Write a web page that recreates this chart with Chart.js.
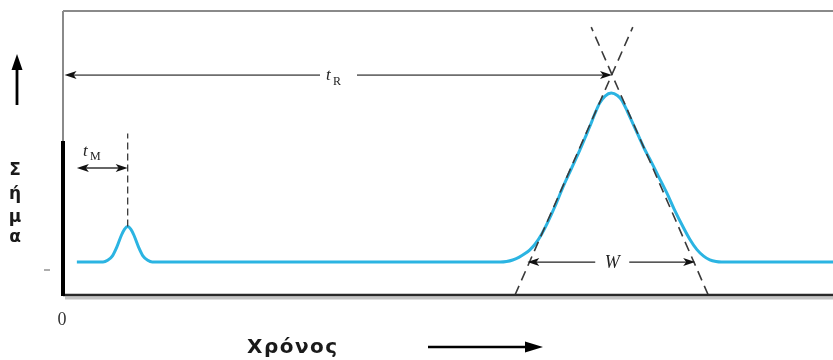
<!DOCTYPE html>
<html>
<head>
<meta charset="utf-8">
<script src="https://cdn.jsdelivr.net/npm/chart.js@4.4.1/dist/chart.umd.min.js"></script>
<style>
  html, body { margin: 0; background: #fff; }
  #wrap { width: 833px; height: 360px; }
</style>
</head>
<body>
<div id="wrap"><canvas id="chrom" width="833" height="360"></canvas></div>
<script>
// time in arbitrary units (0..100), signal in % of the main peak height
const timeRange = [0, 100];
const signalRange = [-19.5, 148.5];

// detector trace
const traceTime = [1.8, 4.6, 5.2, 5.8, 6.4, 7.0, 7.6, 8.0, 8.4, 8.8, 9.2, 9.8, 10.4, 11.0, 11.6, 13.0,
  56.8, 57.6, 58.4, 59.2, 60.0, 60.6, 61.3, 62.1, 62.9, 63.9, 64.9, 66.0, 67.1, 67.8, 68.4, 69.1,
  69.7, 70.4, 71.2, 72.0, 72.6, 73.3, 74.0, 74.8, 75.5, 76.2, 77.3, 78.4, 79.4, 80.5, 81.4, 82.3,
  83.2, 84.0, 84.8, 85.5, 100];
const traceSignal = [0, 0, 0, 1, 3.5, 9, 16, 19.5, 21, 19.5, 16, 9, 3.5, 1, 0, 0,
  0, 0.3, 1.2, 2.8, 5, 7.1, 10.5, 16, 23, 33, 44, 55, 66, 73.5, 80, 88,
  94, 98.2, 100, 98.5, 95.5, 89, 82, 74, 67, 61, 51, 41, 31, 21, 13.5, 7.5,
  3.5, 1.3, 0.3, 0, 0];

// tangents through the inflection points of the main peak
const tangentATime = [58.7, 74.0];
const tangentASignal = [-19.5, 139];
const tangentBTime = [83.8, 68.6];
const tangentBSignal = [-19.5, 139];

// dead time marker (dashed vertical)
const deadMarkTime = [8.4, 8.4];
const deadMarkSignal = [21, 76];

// dimension arrows: [start time, end time, signal level]
const arrowTR = [0.2, 71.3, 110.6];
const arrowTM = [1.8, 8.4, 55.6];
const arrowW = [60.3, 82.1, 0];

const toPoints = (xs, ys) => xs.map((x, i) => ({ x: x, y: ys[i] }));

function arrowHead(ctx, x, y, dir, len, half) {
  ctx.beginPath();
  ctx.moveTo(x, y);
  ctx.lineTo(x - dir * len, y - half);
  ctx.lineTo(x - dir * len + dir * 3, y);
  ctx.lineTo(x - dir * len, y + half);
  ctx.closePath();
  ctx.fill();
}

// horizontal dimension line with a gap for its label
function dimLine(ctx, x1, x2, y, gap, color, width) {
  ctx.save();
  ctx.strokeStyle = color;
  ctx.fillStyle = '#111';
  ctx.lineWidth = width;
  ctx.beginPath();
  if (gap) {
    ctx.moveTo(x1 + 6, y); ctx.lineTo(gap[0], y);
    ctx.moveTo(gap[1], y); ctx.lineTo(x2 - 6, y);
  } else {
    ctx.moveTo(x1 + 6, y); ctx.lineTo(x2 - 6, y);
  }
  ctx.stroke();
  arrowHead(ctx, x1, y, -1, 12, 4);
  arrowHead(ctx, x2, y, 1, 12, 4);
  ctx.restore();
}

const decor = {
  id: 'decor',
  afterDraw(chart) {
    const ctx = chart.ctx;
    const a = chart.chartArea;
    const xs = chart.scales.x, ys = chart.scales.y;
    ctx.save();

    // frame
    ctx.strokeStyle = '#8a8a8a';
    ctx.lineWidth = 2;
    ctx.beginPath();
    ctx.moveTo(a.left, a.top); ctx.lineTo(a.right, a.top);
    ctx.moveTo(a.left, a.top); ctx.lineTo(a.left, 141);
    ctx.stroke();
    ctx.strokeStyle = '#c4c4c4';
    ctx.lineWidth = 3;
    ctx.beginPath();
    ctx.moveTo(a.left + 2, a.bottom + 3); ctx.lineTo(a.right, a.bottom + 3);
    ctx.stroke();
    ctx.strokeStyle = '#2a2a2a';
    ctx.lineWidth = 2.5;
    ctx.beginPath();
    ctx.moveTo(a.left, a.bottom); ctx.lineTo(a.right, a.bottom);
    ctx.stroke();
    ctx.strokeStyle = '#000';
    ctx.lineWidth = 4;
    ctx.beginPath();
    ctx.moveTo(a.left, 141); ctx.lineTo(a.left, a.bottom + 1);
    ctx.stroke();

    // small tick left of the axis
    ctx.strokeStyle = '#777';
    ctx.lineWidth = 1.2;
    ctx.beginPath();
    ctx.moveTo(44, 270); ctx.lineTo(50, 270);
    ctx.stroke();

    // t_R
    const yR = ys.getPixelForValue(arrowTR[2]);
    dimLine(ctx, xs.getPixelForValue(arrowTR[0]), xs.getPixelForValue(arrowTR[1]), yR,
      [320, 357], '#6e6e6e', 1.8);
    ctx.fillStyle = '#222';
    ctx.textBaseline = 'alphabetic';
    ctx.font = 'italic 17px "Liberation Serif"';
    ctx.fillText('t', 326, yR + 5);
    ctx.font = '12px "Liberation Serif"';
    ctx.fillText('R', 333, yR + 10);

    // t_M
    const yM = ys.getPixelForValue(arrowTM[2]);
    dimLine(ctx, xs.getPixelForValue(arrowTM[0]), xs.getPixelForValue(arrowTM[1]), yM,
      null, '#333', 1.5);
    ctx.fillStyle = '#222';
    ctx.font = 'italic 17px "Liberation Serif"';
    ctx.fillText('t', 83, yM - 12);
    ctx.font = '12px "Liberation Serif"';
    ctx.fillText('M', 90, yM - 8);

    // W
    const yW = ys.getPixelForValue(arrowW[2]);
    const xWmid = (xs.getPixelForValue(arrowW[0]) + xs.getPixelForValue(arrowW[1])) / 2;
    dimLine(ctx, xs.getPixelForValue(arrowW[0]), xs.getPixelForValue(arrowW[1]), yW,
      [xWmid - 16, xWmid + 18], '#222', 1.3);
    ctx.fillStyle = '#222';
    ctx.font = 'italic 18px "Liberation Serif"';
    ctx.textAlign = 'center';
    ctx.textBaseline = 'middle';
    ctx.fillText('W', xWmid + 1, yW + 1);

    // origin label
    ctx.font = '18px "Liberation Serif"';
    ctx.fillStyle = '#333';
    ctx.fillText('0', 62, 320);

    // y label, letters stacked
    ctx.font = 'bold 17px "DejaVu Sans"';
    ctx.fillStyle = '#1a1a1a';
    const letters = ['Σ', 'ή', 'μ', 'α'];
    const letterY = [171, 195, 218, 238];
    letters.forEach((c, i) => ctx.fillText(c, 15, letterY[i]));

    // up arrow
    ctx.strokeStyle = '#000';
    ctx.fillStyle = '#000';
    ctx.lineWidth = 2.8;
    ctx.beginPath();
    ctx.moveTo(17, 105); ctx.lineTo(17, 66);
    ctx.stroke();
    ctx.beginPath();
    ctx.moveTo(17, 54); ctx.lineTo(11.5, 70); ctx.lineTo(22.5, 70);
    ctx.closePath();
    ctx.fill();

    // x label and arrow
    ctx.textAlign = 'left';
    ctx.font = 'bold 20px "DejaVu Sans"';
    ctx.letterSpacing = '1.5px';
    ctx.fillStyle = '#1a1a1a';
    ctx.fillText('Χρόνος', 247, 348);
    ctx.letterSpacing = '0px';
    ctx.fillStyle = '#000';
    ctx.lineWidth = 2.5;
    ctx.beginPath();
    ctx.moveTo(428, 347); ctx.lineTo(528, 347);
    ctx.stroke();
    ctx.beginPath();
    ctx.moveTo(543, 347); ctx.lineTo(525, 341.5); ctx.lineTo(525, 352.5);
    ctx.closePath();
    ctx.fill();

    ctx.restore();
  }
};

const dashStyle = {
  borderColor: '#3a3a3a',
  borderWidth: 1.6,
  borderDash: [10, 6],
  pointRadius: 0,
  fill: false,
  tension: 0
};

new Chart(document.getElementById('chrom'), {
  type: 'line',
  data: {
    datasets: [
      Object.assign({ data: toPoints(tangentATime, tangentASignal) }, dashStyle),
      Object.assign({ data: toPoints(tangentBTime, tangentBSignal) }, dashStyle),
      Object.assign({ data: toPoints(deadMarkTime, deadMarkSignal) }, dashStyle,
        { borderDash: [7, 4], borderWidth: 1.3 }),
      {
        data: toPoints(traceTime, traceSignal),
        borderColor: '#2bb4e2',
        borderWidth: 3,
        pointRadius: 0,
        fill: false,
        cubicInterpolationMode: 'monotone'
      }
    ]
  },
  options: {
    responsive: false,
    animation: false,
    devicePixelRatio: 1,
    layout: { padding: { left: 63, top: 11, right: 0, bottom: 65 } },
    plugins: { legend: { display: false }, tooltip: { enabled: false } },
    scales: {
      x: { type: 'linear', display: false, min: timeRange[0], max: timeRange[1] },
      y: { type: 'linear', display: false, min: signalRange[0], max: signalRange[1] }
    }
  },
  plugins: [decor]
});
</script>
</body>
</html>
